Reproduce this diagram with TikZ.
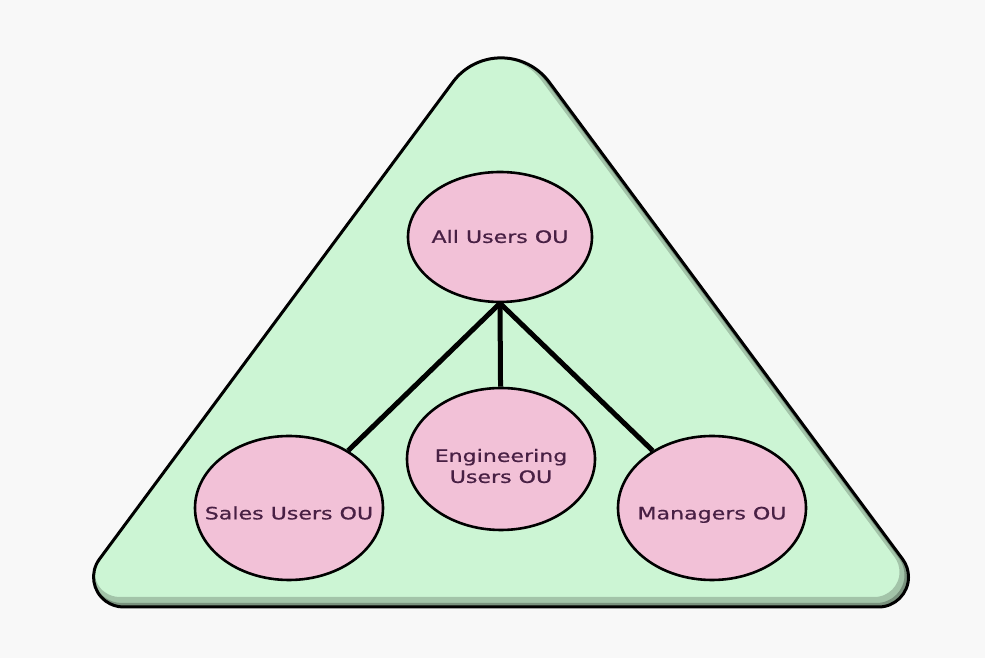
\documentclass[tikz,border=0pt]{standalone}
\usepackage{fontspec}
\usepackage{graphicx}
\setmainfont{DejaVu Sans}
\newfontfamily\oufont[FakeBold=0.6]{DejaVu Sans}
\usetikzlibrary{shapes.geometric}
\definecolor{bgc}{RGB}{248,248,248}
\definecolor{trifill}{RGB}{204,245,212}
\definecolor{ellfill}{RGB}{242,193,215}
\definecolor{txtc}{RGB}{72,32,68}
\newcommand{\wtext}[2]{\smash{\raisebox{#1}{\makebox[0pt]{\scalebox{1.3}[1]{\begin{tabular}{@{}c@{}}#2\end{tabular}}}}}}
\tikzset{
  ou/.style={ellipse, draw=black, line width=2.6pt, fill=ellfill, inner sep=0pt,
    text=txtc, font=\oufont\fontsize{17}{21}\selectfont},
  link/.style={line width=5pt, draw=black}
}
\begin{document}
\begin{tikzpicture}[x=1pt,y=1pt]
\fill[bgc] (0,0) rectangle (985,658);
\useasboundingbox (0,0) rectangle (985,658);
% triangle with rounded corners
\def\tripath{(549.2,575.9) arc[start angle=36.6, end angle=143.4, radius=60pt]
  -- (99.4,98.8) arc[start angle=143.6, end angle=270, radius=30pt]
  -- (878.5,51) arc[start angle=-90, end angle=36.4, radius=30pt] -- cycle}
\fill[trifill] \tripath;
\begin{scope}
  \clip \tripath;
  \draw[black, opacity=0.2, line width=10pt, shift={(-4pt,5pt)}] \tripath;
  \draw[black, opacity=0.25, line width=4pt, shift={(-2pt,2pt)}] \tripath;
\end{scope}
\draw[draw=black, line width=3pt] \tripath;
% nodes
\node[ou, minimum width=184pt, minimum height=130pt] (all) at (500,421) {\wtext{-6pt}{All Users OU}};
\node[ou, minimum width=188pt, minimum height=144pt] (sales) at (289,150) {\wtext{-11.5pt}{Sales Users OU}};
\node[ou, minimum width=188pt, minimum height=144pt] (mgr) at (712,150) {\wtext{-11.5pt}{Managers OU}};
\node[ou, minimum width=188pt, minimum height=142pt] (eng) at (501,199) {\wtext{-13.5pt}{Engineering\\Users OU}};
% connectors
\draw[link] (all.south) -- (sales);
\draw[link] (all.south) -- (mgr);
\draw[link] (all.south) -- (eng);
\end{tikzpicture}
\end{document}
